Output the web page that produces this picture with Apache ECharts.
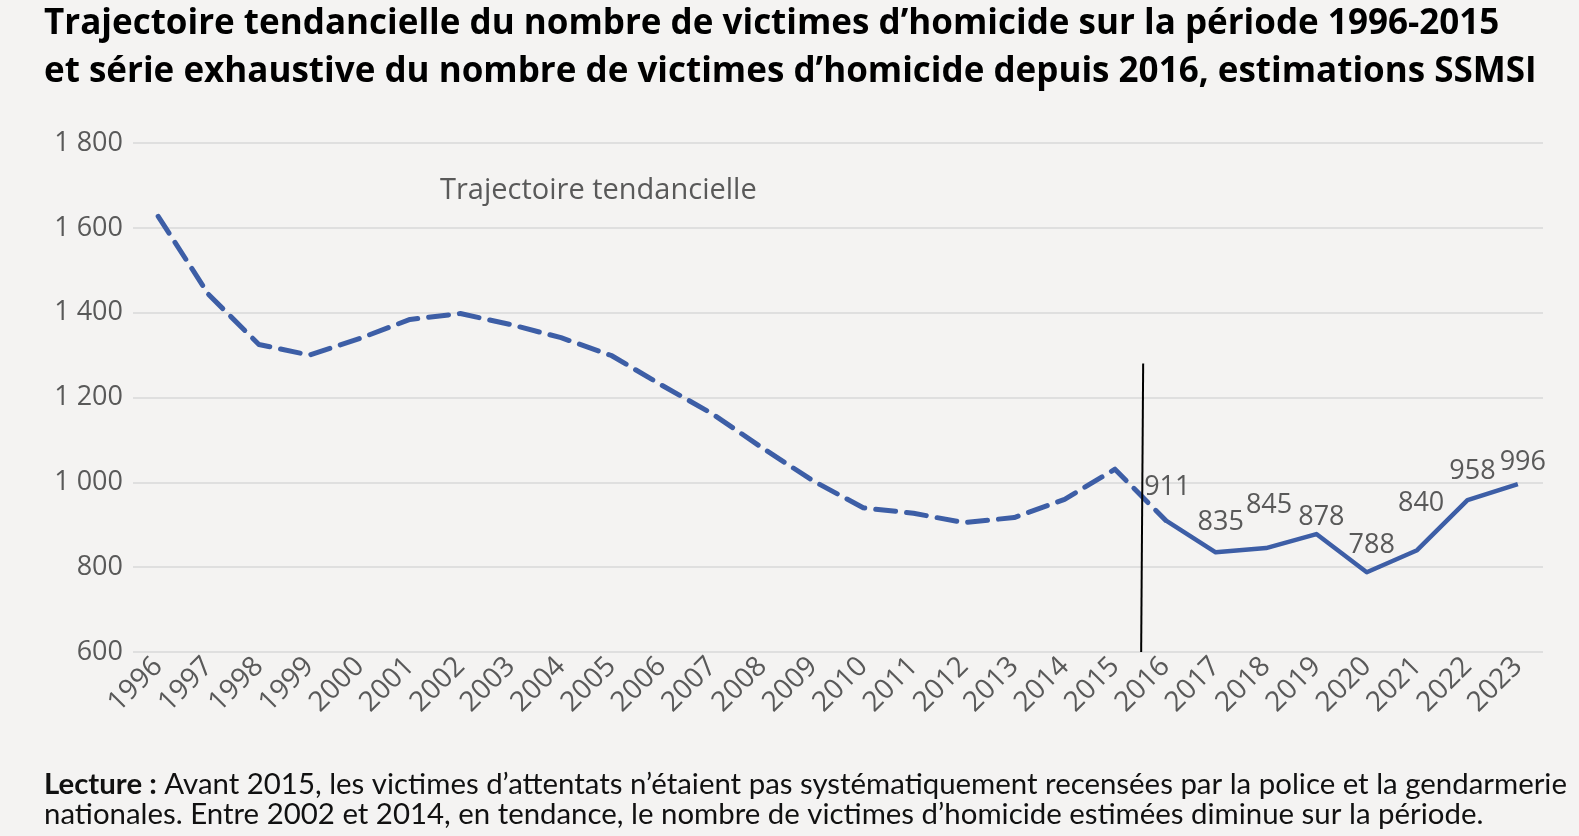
<!DOCTYPE html>
<html>
<head>
<meta charset="utf-8">
<script src="https://cdn.jsdelivr.net/npm/echarts@6/dist/echarts.min.js"></script>
<style>
html,body{margin:0;padding:0;background:#f4f3f2;}
#chart{width:1579px;height:836px;}
</style>
</head>
<body>
<div id="chart"></div>
<script>
// ---- data ----
const years = ['1996','1997','1998','1999','2000','2001','2002','2003','2004','2005','2006','2007','2008','2009','2010','2011','2012','2013','2014','2015','2016','2017','2018','2019','2020','2021','2022','2023'];
const trendValues = [1627,1443,1325,1300,1339,1384,1398,1372,1341,1299,1229,1162,1081,1004,940,927,905,917,960,1031,911,null,null,null,null,null,null,null];
const observedValues = [null,null,null,null,null,null,null,null,null,null,null,null,null,null,null,null,null,null,null,null,911,835,845,878,788,840,958,996];
const separatorLine = [[19.56,1280],[19.52,600]];
const yTicks = [600,800,1000,1200,1400,1600,1800];

const titleText = 'Trajectoire tendancielle du nombre de victimes d\u2019homicide sur la période 1996-2015\net série exhaustive du nombre de victimes d\u2019homicide depuis 2016, estimations SSMSI';
const annotationText = 'Trajectoire tendancielle';
const noteLabel = 'Lecture :';
const noteLine1 = ' Avant 2015, les victimes d\u2019attentats n\u2019étaient pas systématiquement recensées par la police et la gendarmerie';
const noteLine2 = 'nationales. Entre 2002 et 2014, en tendance, le nombre de victimes d\u2019homicide estimées diminue sur la période.';

// label placement tweaks (style only, [dx, dy] in px)
const labelNudge = [[2,-4],[5,-2],[3,-14],[5,12],[5,2],[4,-18],[5,0],[5,7]];

const BLUE = '#3d5ea6';
const GRAY = '#595959';

function fmt(v){ return String(v).replace(/\B(?=(\d{3})+(?!\d))/g, '\u00a0'); }

const observedData = observedValues.map((v, i) => {
  if (v === null) return null;
  const k = i - 20;
  const n = labelNudge[k] || [0,0];
  return { value: v, label: { offset: n } };
});

const chart = echarts.init(document.getElementById('chart'));
chart.setOption({
  backgroundColor: '#f4f3f2',
  animation: false,
  title: [
    {
      text: titleText,
      left: 44, top: 0, padding: 0,
      textStyle: { fontFamily: 'Open Sans', fontWeight: 'bold', fontSize: 35, lineHeight: 48, color: '#000' }
    },
    {
      text: '{b|' + noteLabel + '}{r|' + noteLine1 + '}\n{r|' + noteLine2 + '}',
      left: 44, top: 770, padding: 0,
      textStyle: {
        fontWeight: 'normal',
        rich: {
          b: { fontFamily: 'Lato', fontWeight: 'bold', fontSize: 29.4, lineHeight: 30, color: '#111' },
          r: { fontFamily: 'Lato', fontWeight: 'normal', fontSize: 29.4, lineHeight: 30, color: '#111' }
        }
      }
    }
  ],
  graphic: [{
    type: 'text', left: 440, top: 176,
    style: { text: annotationText, fontFamily: 'Open Sans', fontSize: 29, fill: GRAY }
  }],
  grid: { left: 133, right: 36, top: 143, bottom: 184, containLabel: false },
  xAxis: [
    {
      type: 'category', data: years, boundaryGap: true,
      axisLine: { show: false }, axisTick: { show: false },
      axisLabel: { interval: 0, rotate: 45, fontFamily: 'Open Sans', fontSize: 28, color: GRAY, margin: 10 }
    },
    { type: 'value', min: -0.5, max: 27.5, show: false }
  ],
  yAxis: {
    type: 'value', min: yTicks[0], max: yTicks[yTicks.length-1], interval: 200,
    axisLine: { show: false }, axisTick: { show: false },
    axisLabel: { fontFamily: 'Open Sans', fontSize: 27, color: GRAY, margin: 10, formatter: fmt },
    splitLine: { lineStyle: { color: '#d9d9d9', width: 1.5 } }
  },
  series: [
    {
      type: 'line', data: trendValues, xAxisIndex: 0,
      showSymbol: false, symbol: 'none',
      lineStyle: { color: BLUE, width: 5, type: [20, 11], cap: 'round', join: 'round' }
    },
    {
      type: 'line', data: observedData, xAxisIndex: 0,
      symbol: 'circle', symbolSize: 2, showSymbol: true,
      itemStyle: { color: 'rgba(0,0,0,0)' },
      lineStyle: { color: BLUE, width: 4.5, join: 'round' },
      label: { show: true, position: 'top', distance: 14, fontFamily: 'Open Sans', fontSize: 27, color: GRAY, formatter: p => fmt(p.value) }
    },
    {
      type: 'line', data: separatorLine, xAxisIndex: 1,
      symbol: 'none', lineStyle: { color: '#000', width: 2 }, z: 5
    }
  ]
});
</script>
</body>
</html>
